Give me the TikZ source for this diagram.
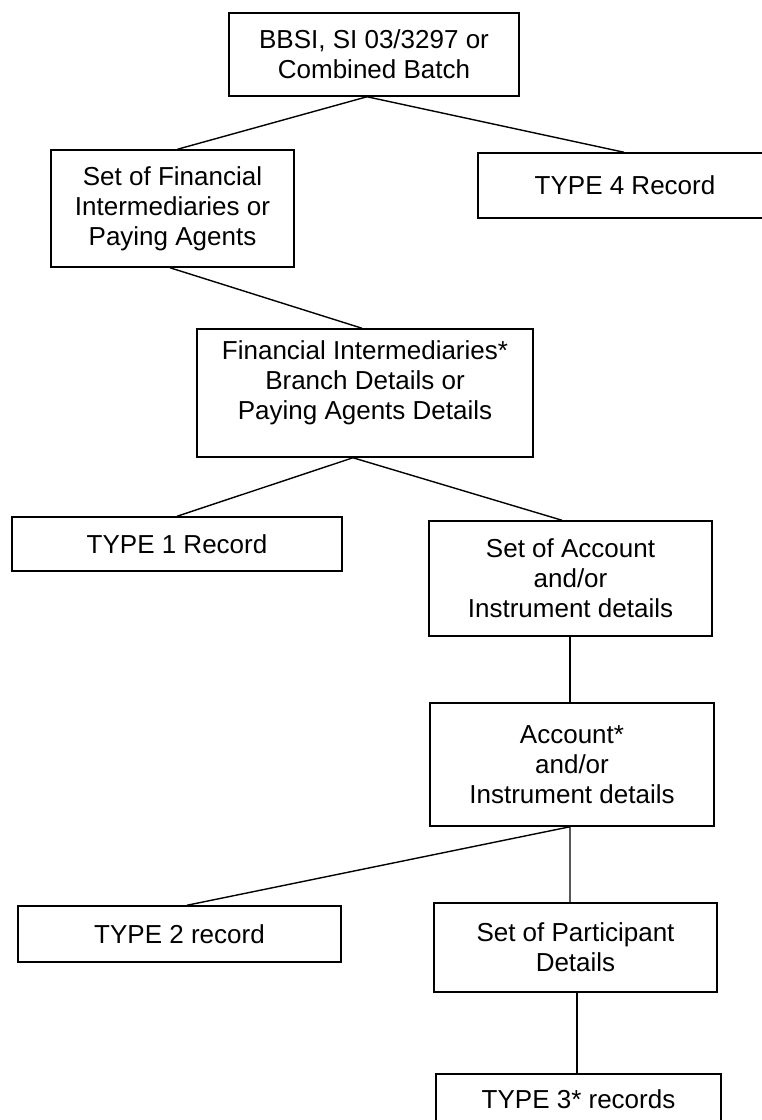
\documentclass[tikz,border=0pt]{standalone}
\usepackage{fontspec}
\setmainfont{Liberation Sans}
\begin{document}
\begin{tikzpicture}[x=1pt,y=-1pt,
  box/.style={draw, line width=1.5pt, rectangle, inner sep=0pt, align=center,
              font=\fontsize{26}{30}\selectfont},
  txt/.style={align=center, inner sep=0pt, font=\fontsize{26}{30}\selectfont},
  conn/.style={line width=1.4pt}]
\useasboundingbox (0,0) rectangle (762,1120);
\fill[white] (0,0) rectangle (762,1120);

\node[box, minimum width=290pt, minimum height=83pt] (b1) at (374,54.5)
  {BBSI, SI 03/3297 or\\Combined Batch};
\node[box, minimum width=243pt, minimum height=117pt] (b2) at (172.5,208.5)
  {Set of Financial\\Intermediaries or\\Paying Agents};
\node[box, minimum width=294pt, minimum height=65pt] (t4) at (625,185.5)
  {TYPE 4 Record};
\node[box, minimum width=336pt, minimum height=128pt,
  label={[txt, yshift=10pt]center:Financial Intermediaries*\\Branch Details or\\Paying Agents Details}]
  (b4) at (365,393) {};
\node[box, minimum width=330pt, minimum height=54pt] (t1) at (177,544)
  {TYPE 1 Record};
\node[box, minimum width=283pt, minimum height=115pt] (sa) at (570.5,578.5)
  {Set of Account\\and/or\\Instrument details};
\node[box, minimum width=284pt, minimum height=123pt] (ac) at (572,764.5)
  {Account*\\and/or\\Instrument details};
\node[box, minimum width=323pt, minimum height=56pt] (t2) at (179.5,934)
  {TYPE 2 record};
\node[box, minimum width=283pt, minimum height=89pt] (sp) at (575.5,947.5)
  {Set of Participant\\Details};
\node[box, minimum width=285pt, minimum height=50pt] (t3) at (578.5,1099)
  {TYPE 3* records};

\draw[conn] ([xshift=5pt]b2.north) -- ([xshift=-7pt]b1.south) -- ([xshift=-1pt]t4.north);
\draw[conn] ([xshift=-2.5pt]b2.south) -- ([xshift=-3pt]b4.north);
\draw[conn] (t1.north) -- ([xshift=-12pt]b4.south) -- ([xshift=-8.5pt]sa.north);
\draw[conn] ([xshift=-0.5pt]sa.south) -- ([xshift=-2pt]ac.north);
\draw[conn] ([xshift=7.5pt]t2.north) -- ([xshift=-2pt]ac.south) -- ([xshift=-5.5pt]sp.north);
\draw[conn] ([xshift=1.5pt]sp.south) -- ([xshift=-1.5pt]t3.north);
\end{tikzpicture}
\end{document}
